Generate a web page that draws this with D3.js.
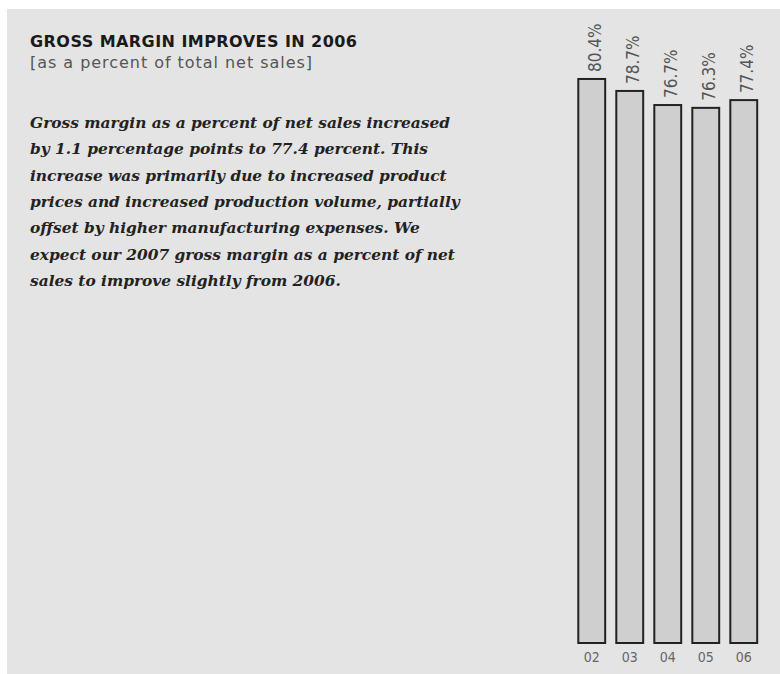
<!DOCTYPE html>
<html>
<head>
<meta charset="utf-8">
<script src="https://cdn.jsdelivr.net/npm/d3@7"></script>
<style>
  html, body { margin: 0; padding: 0; background: #ffffff; }
  svg { display: block; }
</style>
</head>
<body>
<script>
const years = ["02", "03", "04", "05", "06"];
const grossMargin = [80.4, 78.7, 76.7, 76.3, 77.4];
const valueLabels = ["80.4%", "78.7%", "76.7%", "76.3%", "77.4%"];
const title = "GROSS MARGIN IMPROVES IN 2006";
const subtitle = "[as a percent of total net sales]";
const bodyLines = [
  "Gross margin as a percent of net sales increased",
  "by 1.1 percentage points to 77.4 percent. This",
  "increase was primarily due to increased product",
  "prices and increased production volume, partially",
  "offset by higher manufacturing expenses. We",
  "expect our 2007 gross margin as a percent of net",
  "sales to improve slightly from 2006."
];

const W = 780, H = 674;
const svg = d3.select("body").append("svg").attr("width", W).attr("height", H);

svg.append("rect").attr("x", 7).attr("y", 9).attr("width", W - 7).attr("height", H - 9)
  .attr("fill", "#e4e4e4");

const sans = "'DejaVu Sans', sans-serif";
const cond = "'DejaVu Sans Condensed', 'DejaVu Sans', sans-serif";

svg.append("text").attr("x", 30).attr("y", 47).text(title)
  .attr("font-family", sans).attr("font-weight", "bold").attr("font-size", 16)
  .attr("textLength", 327).attr("lengthAdjust", "spacing")
  .attr("fill", "#1a1a1a");

svg.append("text").attr("x", 30).attr("y", 68).text(subtitle)
  .attr("font-family", sans).attr("font-size", 16)
  .attr("textLength", 282).attr("lengthAdjust", "spacing")
  .attr("fill", "#555555");

svg.append("g").selectAll("text").data(bodyLines).join("text")
  .attr("x", 30).attr("y", (d, i) => 128 + i * 26.3)
  .attr("font-family", "'DejaVu Serif', serif").attr("font-style", "italic")
  .attr("font-weight", "bold").attr("font-size", 15.4).attr("fill", "#222222")
  .text(d => d);

const x = d3.scaleBand().domain(years).range([573.5, 762]).paddingInner(0.24).paddingOuter(0.1);
const y = d3.scaleLinear().domain([0, 100]).range([644, -60]);

const g = svg.append("g");
g.selectAll("rect").data(years).join("rect")
  .attr("x", d => x(d) + 1)
  .attr("width", x.bandwidth() - 2)
  .attr("y", (d, i) => y(grossMargin[i]) + 1)
  .attr("height", (d, i) => y(0) - y(grossMargin[i]) - 2)
  .attr("fill", "#cfcfcf").attr("stroke", "#222222").attr("stroke-width", 2);

g.selectAll("text.val").data(years).join("text").attr("class", "val")
  .attr("transform", (d, i) => `translate(${x(d) + x.bandwidth() / 2 + 9.5},${y(grossMargin[i]) - 6}) rotate(-90)`)
  .attr("font-family", cond).attr("font-size", 17).attr("fill", "#555555")
  .text((d, i) => valueLabels[i]);

const xAxis = d3.axisBottom(x).tickSize(0).tickPadding(0);
const ax = svg.append("g").attr("transform", "translate(0,652)").call(xAxis);
ax.select(".domain").remove();
ax.selectAll("text").attr("font-family", cond).attr("font-size", 14).attr("fill", "#666666")
  .attr("dy", "0.71em");
</script>
</body>
</html>
